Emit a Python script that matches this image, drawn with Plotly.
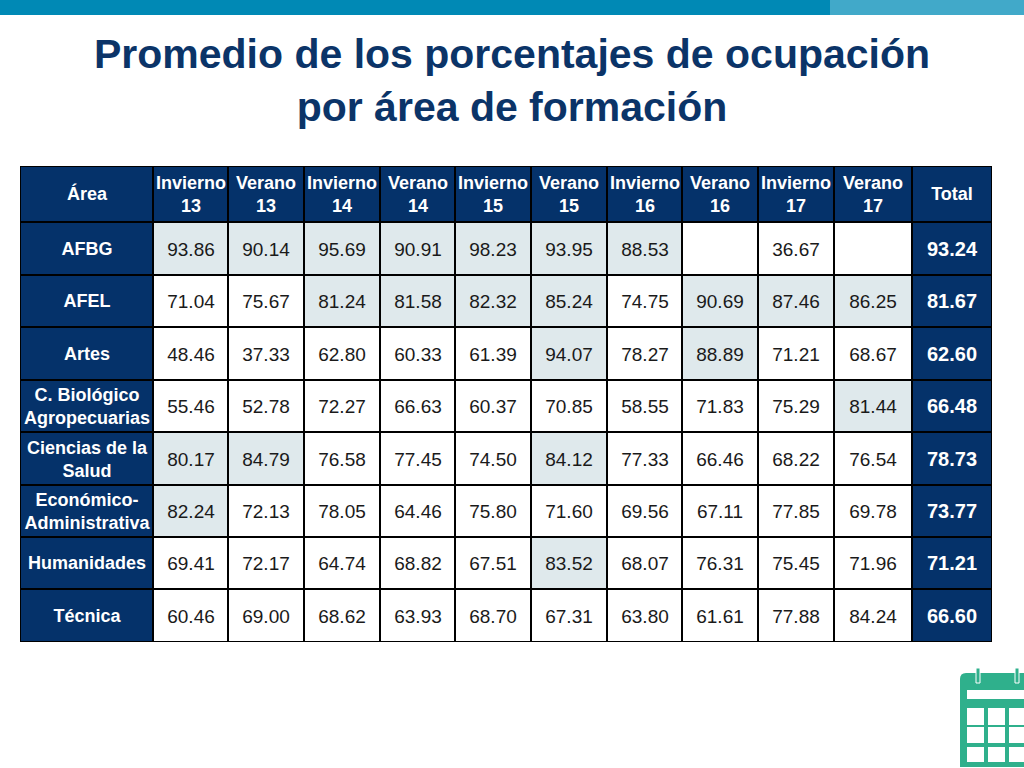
import plotly.graph_objects as go

areas = ['AFBG', 'AFEL', 'Artes', 'C. Biológico<br>Agropecuarias', 'Ciencias de la<br>Salud',
         'Económico-<br>Administrativa', 'Humanidades', 'Técnica']
periods = ['Invierno<br>13', 'Verano<br>13', 'Invierno<br>14', 'Verano<br>14', 'Invierno<br>15',
           'Verano<br>15', 'Invierno<br>16', 'Verano<br>16', 'Invierno<br>17', 'Verano<br>17']

inv13 = ['93.86', '71.04', '48.46', '55.46', '80.17', '82.24', '69.41', '60.46']
ver13 = ['90.14', '75.67', '37.33', '52.78', '84.79', '72.13', '72.17', '69.00']
inv14 = ['95.69', '81.24', '62.80', '72.27', '76.58', '78.05', '64.74', '68.62']
ver14 = ['90.91', '81.58', '60.33', '66.63', '77.45', '64.46', '68.82', '63.93']
inv15 = ['98.23', '82.32', '61.39', '60.37', '74.50', '75.80', '67.51', '68.70']
ver15 = ['93.95', '85.24', '94.07', '70.85', '84.12', '71.60', '83.52', '67.31']
inv16 = ['88.53', '74.75', '78.27', '58.55', '77.33', '69.56', '68.07', '63.80']
ver16 = ['', '90.69', '88.89', '71.83', '66.46', '67.11', '76.31', '61.61']
inv17 = ['36.67', '87.46', '71.21', '75.29', '68.22', '77.85', '75.45', '77.88']
ver17 = ['', '86.25', '68.67', '81.44', '76.54', '69.78', '71.96', '84.24']
total = ['93.24', '81.67', '62.60', '66.48', '78.73', '73.77', '71.21', '66.60']

columns = [inv13, ver13, inv14, ver14, inv15, ver15, inv16, ver16, inv17, ver17]

W, H = 1024, 768
NAVY = '#05326a'
TINT = '#dfe9ec'
GREEN = '#2fb08c'

# cell edges, in page pixels
x_edges = [20, 153, 228, 304, 380, 455, 531, 607, 682, 758, 834, 912, 992]
y_edges = [166, 222, 275, 327, 380, 432, 485, 537, 589, 642]


def is_tinted(value, row):
    # the slide tints 80 and up, but not in the Técnica row
    return bool(value) and float(value) >= 80 and areas[row] != 'Técnica'


def cell_block(xe, ye, text, z, scale, font):
    return go.Heatmap(
        x=xe, y=ye, z=z, text=text, texttemplate='%{text}',
        textfont=font, colorscale=scale, zmin=0, zmax=1,
        showscale=False, xgap=2, ygap=2, hoverinfo='skip',
    )


def bold(s):
    return f'<b>{s}</b>'


navy_scale = [[0, NAVY], [1, NAVY]]
body_scale = [[0, 'white'], [1, TINT]]
header_font = dict(family='Liberation Sans', size=18, color='white')

fig = go.Figure()
# header row
fig.add_trace(cell_block(x_edges, y_edges[:2],
                         [[bold(t) for t in ['Área'] + periods + ['Total']]],
                         [[0] * 12], navy_scale, header_font))
# area names
fig.add_trace(cell_block(x_edges[:2], y_edges[1:],
                         [[bold(a)] for a in areas], [[0]] * 8, navy_scale, header_font))
# values
body_text = [[col[r] for col in columns] for r in range(8)]
body_z = [[1 if is_tinted(col[r], r) else 0 for col in columns] for r in range(8)]
fig.add_trace(cell_block(x_edges[1:-1], y_edges[1:], body_text, body_z, body_scale,
                         dict(family='Liberation Sans', size=19, color='#1a1a1a')))
# totals
fig.add_trace(cell_block(x_edges[-2:], y_edges[1:],
                         [[bold(t)] for t in total], [[0]] * 8, navy_scale,
                         dict(family='Liberation Sans', size=20, color='white')))


def px_rect(x0, y0, x1, y1, color, line=None):
    return dict(type='rect', xref='paper', yref='paper', layer='above',
                x0=x0 / W, x1=x1 / W, y0=1 - y0 / H, y1=1 - y1 / H, fillcolor=color,
                line=dict(color=line, width=1) if line else dict(width=0))


shapes = [px_rect(0, 0, 830, 15, '#0089b5'), px_rect(830, 0, 1024, 15, '#41a9c9')]
# calendar icon
shapes.append(dict(type='path', xref='paper', yref='paper', fillcolor=GREEN, line_width=0,
                   path=f'M {960 / W} {1 - 767 / H} L {960 / W} {1 - 679 / H} '
                        f'Q {960 / W} {1 - 673 / H} {966 / W} {1 - 673 / H} '
                        f'L 1 {1 - 673 / H} L 1 {1 - 767 / H} Z'))
shapes.append(px_rect(976, 668, 980, 683, GREEN, 'white'))
shapes.append(px_rect(1015, 668, 1019, 683, GREEN, 'white'))
shapes.append(px_rect(967, 690, 1024, 699, 'white'))
for y0, y1 in [(708, 725), (727, 743), (747, 762)]:
    for x0, x1 in [(967, 984), (988, 1005), (1009, 1024)]:
        shapes.append(px_rect(x0, y0, x1, y1, 'white'))

fig.update_layout(
    width=W, height=H,
    margin=dict(l=0, r=0, t=0, b=0),
    paper_bgcolor='white',
    plot_bgcolor='black',
    font=dict(family='Liberation Sans'),
    title=dict(
        text='<b>Promedio de los porcentajes de ocupación<br>por área de formación</b>',
        x=0.5, xanchor='center', xref='paper', y=1 - 67.5 / H, yanchor='middle',
        font=dict(family='Liberation Sans', size=41, color='#0b3468'),
    ),
    xaxis=dict(domain=[20 / W, 992 / W], range=[20, 992], visible=False),
    yaxis=dict(domain=[1 - 642 / H, 1 - 166 / H], range=[642, 166], visible=False),
    shapes=shapes,
)

# the page's default body margin would push the slide off its edges
fig.write_html("out.html", config=dict(displayModeBar=False),
               post_script="document.body.style.margin='0';")
